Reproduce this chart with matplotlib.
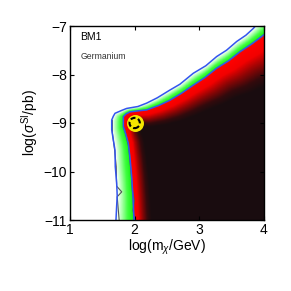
import numpy as np
import matplotlib
matplotlib.use("Agg")
import matplotlib.pyplot as plt
from matplotlib.colors import LinearSegmentedColormap
from matplotlib.path import Path

plt.rcParams["font.family"] = ["Liberation Sans", "DejaVu Sans"]
plt.rcParams["mathtext.fontset"] = "custom"
plt.rcParams["mathtext.rm"] = "Liberation Sans"
plt.rcParams["mathtext.it"] = "Liberation Sans:italic"

# outer (blue) contour of the credible region, log10 mass vs log10 sigma
outer_x = [1.711, 1.72, 1.73, 1.722, 1.70, 1.696, 1.67, 1.645, 1.645, 1.67, 1.696, 1.80, 1.876,
           2.05, 2.186, 2.35, 2.546, 2.70, 2.906, 3.10, 3.268, 3.42, 3.577, 3.72, 3.835, 3.90]
outer_y = [-11.0, -10.75, -10.5, -10.24, -9.9, -9.56, -9.35, -9.14, -8.94, -8.86, -8.80, -8.74, -8.70,
           -8.66, -8.59, -8.48, -8.32, -8.20, -7.975, -7.82, -7.63, -7.50, -7.32, -7.19, -7.05, -6.95]

# inner (blue) contour
inner_x = [1.99, 1.975, 1.954, 1.93, 1.902, 1.86, 1.825, 1.825, 1.87, 1.928, 2.05, 2.186, 2.37,
           2.546, 2.72, 2.906, 3.09, 3.268, 3.45, 3.63, 3.81, 3.99, 4.05]
inner_y = [-11.0, -10.55, -10.11, -9.75, -9.42, -9.22, -9.08, -8.87, -8.81, -8.77, -8.75, -8.73, -8.64,
           -8.53, -8.39, -8.22, -8.06, -7.87, -7.72, -7.53, -7.37, -7.19, -7.14]

# grey contours (second analysis), visible along the left edge
grey_outer_x = [1.76, 1.73, 1.80, 1.72, 1.715, 1.69, 1.655, 1.655]
grey_outer_y = [-11.0, -10.52, -10.42, -10.30, -9.9, -9.56, -9.2, -8.95]
grey_inner_x = [2.0, 1.975, 1.995, 1.965, 1.95, 1.91, 1.84]
grey_inner_y = [-11.0, -10.8, -10.6, -10.4, -10.1, -9.5, -9.1]

# depth (in pixels) of the red band inside the inner contour, by mass
depth_x = [1.6, 2.0, 2.3, 3.0, 3.5, 4.0]
depth_px = [18, 14, 18, 27, 34, 42]

# benchmark point BM1
bm_x, bm_y = 2.0, -9.0

xticks = [1, 2, 3, 4]
yticks = [-11, -10, -9, -8, -7]

fig = plt.figure(figsize=(2.91, 2.91), dpi=100)
ax = fig.add_axes([70 / 291, 71 / 291, 194 / 291, 194 / 291])

sx, sy = 194 / 3.0, 194 / 4.0  # pixels per data unit


def to_px(x, y):
    return (np.asarray(x) - 1.0) * sx, (np.asarray(y) + 11.0) * sy


def dist_to_line(px, py, lx, ly):
    lx, ly = to_px(lx, ly)
    best = np.full(px.shape, np.inf)
    for i in range(len(lx) - 1):
        ax0, ay0, bx, by = lx[i], ly[i], lx[i + 1], ly[i + 1]
        dx, dy = bx - ax0, by - ay0
        t = ((px - ax0) * dx + (py - ay0) * dy) / (dx * dx + dy * dy)
        t = np.clip(t, 0, 1)
        d = np.hypot(px - (ax0 + t * dx), py - (ay0 + t * dy))
        best = np.minimum(best, d)
    return best


def inside(gx, gy, lx, ly):
    vx = list(lx) + [4.6, 4.6, lx[0]]
    vy = list(ly) + [ly[-1], -11.6, -11.6]
    poly = Path(np.column_stack([vx, vy]))
    pts = np.column_stack([gx.ravel(), gy.ravel()])
    return poly.contains_points(pts).reshape(gx.shape)


n = 320
gx, gy = np.meshgrid(np.linspace(1, 4, n), np.linspace(-11, -7, n))
px, py = to_px(gx, gy)

d_out = dist_to_line(px, py, outer_x, outer_y)
d_in = dist_to_line(px, py, inner_x, inner_y)
in_out = inside(gx, gy, outer_x, outer_y)
in_in = inside(gx, gy, inner_x, inner_y)

v = np.zeros_like(gx)
band = in_out & ~in_in
v[band] = 0.34 * d_out[band] / (d_out[band] + d_in[band])
D = np.interp(gx, depth_x, depth_px)
v[in_in] = 0.36 + 0.64 * np.clip(d_in[in_in] / D[in_in], 0, 1)

cmap = LinearSegmentedColormap.from_list("like", [
    (0.00, (1.0, 1.0, 1.0)),
    (0.04, (0.9, 1.0, 0.9)),
    (0.12, (0.62, 1.0, 0.62)),
    (0.22, (0.25, 1.0, 0.25)),
    (0.32, (0.1, 0.95, 0.1)),
    (0.35, (0.5, 0.45, 0.0)),
    (0.38, (1.0, 0.0, 0.0)),
    (0.55, (0.95, 0.0, 0.0)),
    (0.72, (0.55, 0.02, 0.02)),
    (0.88, (0.2, 0.04, 0.05)),
    (1.00, (0.1, 0.05, 0.06)),
])

ax.imshow(v, origin="lower", extent=[1, 4, -11, -7], aspect="auto",
          cmap=cmap, vmin=0, vmax=1, interpolation="bilinear")

ax.plot(grey_outer_x, grey_outer_y, color="#555555", lw=0.8)
ax.plot(grey_inner_x, grey_inner_y, color="#555555", lw=0.8)
ax.plot(outer_x, outer_y, color="#3355ee", lw=1.1)
ax.plot(inner_x, inner_y, color="#3355ee", lw=1.1)

ax.scatter([bm_x], [bm_y], s=125, facecolors="#f5e600", edgecolors="#f5e600", zorder=5)
ax.scatter([bm_x], [bm_y], s=55, facecolors="none", edgecolors="black",
           linewidths=1.5, linestyle=(0, (2.4, 1.3)), zorder=6)

ax.text(1.16, -7.23, "BM1", fontsize=7.5, va="center", ha="left")
ax.text(1.16, -7.62, "Germanium", fontsize=6.2, va="center", ha="left", color="#333333")

ax.set_xlim(1, 4)
ax.set_ylim(-11, -7)
ax.set_xticks(xticks)
ax.set_yticks(yticks)
ax.set_xticklabels([str(t) for t in xticks])
ax.set_yticklabels([f"\u2212{abs(t)}" for t in yticks])
ax.tick_params(direction="in", top=True, right=True, length=3, width=0.8,
               labelsize=10, pad=2)
for s in ax.spines.values():
    s.set_linewidth(1.0)

ax.set_xlabel(r"log(m$_\chi$/GeV)", fontsize=10, labelpad=1)
ax.set_ylabel(r"log($\sigma^{\rm SI}$/pb)", fontsize=10, labelpad=2)

fig.savefig("out.png", dpi=100)
